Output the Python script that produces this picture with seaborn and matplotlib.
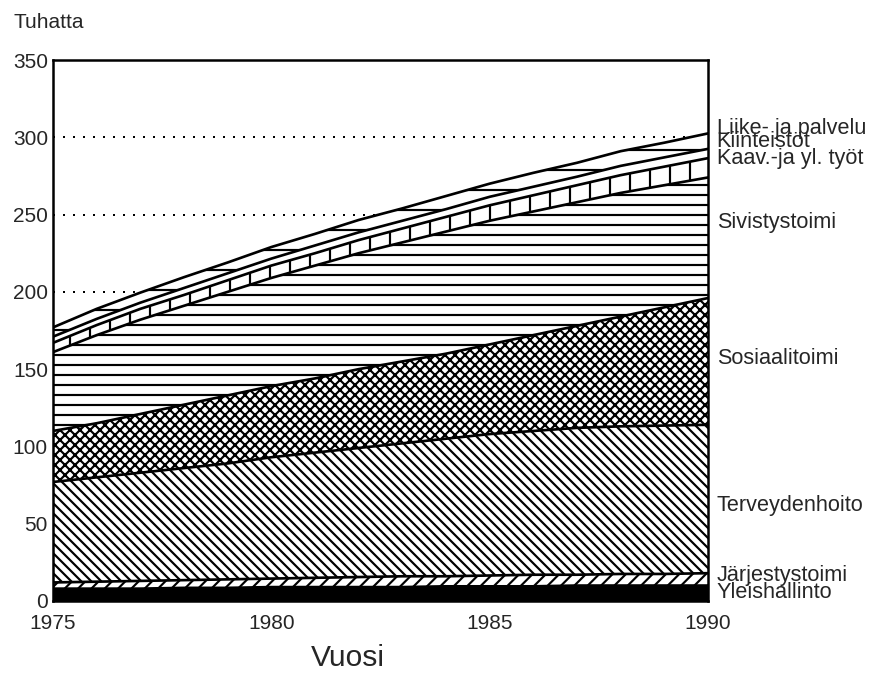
import numpy as np
import pandas as pd
import matplotlib
matplotlib.use("Agg")
import matplotlib.pyplot as plt
import seaborn as sns

sns.set_style("white")
plt.rcParams['font.family'] = ['Liberation Sans', 'DejaVu Sans']
plt.rcParams['hatch.linewidth'] = 1.3
plt.rcParams['hatch.color'] = 'black'

# ===== DATA (tuhatta, layer thickness per year) =====
years = list(range(1975, 1991))
yleishallinto = [8, 8, 8, 8.5, 8.5, 9, 9, 9, 9, 9.5, 9.5, 9.5, 10, 10, 10, 10]
jarjestystoimi = [4, 4.5, 5, 5, 5.5, 5.5, 6, 6.5, 7, 6.5, 7, 7.5, 7, 7.5, 7.5, 8]
terveydenhoito = [65, 67.5, 70, 72.5, 75, 78.5, 81, 83.5, 86, 89, 91.5, 93, 95, 95.5, 96, 96]
sosiaalitoimi = [33, 35, 38, 41, 44, 46, 48, 51, 53, 55, 58, 62, 66, 71, 76.5, 82]
sivistystoimi = [51, 57, 61, 64, 67, 70, 73, 75, 77, 79, 80, 80, 80, 80, 79, 78]
kaav_tyot = [6, 6.5, 7, 7, 7.5, 8, 8, 8.5, 9, 9.5, 10, 10.5, 11, 11.5, 12, 12.5]
kiinteistot = [4, 4, 4, 4.5, 4.5, 4.5, 5, 5, 5, 5, 5.5, 5.5, 5.5, 6, 6, 6]
liike_palvelu = [6, 6.5, 6.5, 7, 7, 7.5, 7.5, 8, 8, 8.5, 8.5, 9, 9, 9.5, 9.5, 10]

layers = [
    ("Yleishallinto", yleishallinto),
    ("Järjestystoimi", jarjestystoimi),
    ("Terveydenhoito", terveydenhoito),
    ("Sosiaalitoimi", sosiaalitoimi),
    ("Sivistystoimi", sivistystoimi),
    ("Kaav.-ja yl. työt", kaav_tyot),
    ("Kiinteistöt", kiinteistot),
    ("Liike- ja palvelu", liike_palvelu),
]
hatches = [None, '///', '\\\\\\\\', 'xxxx', '--', '|', None, '-']
label_y = [5.2, 16.2, 61.6, 157, 245, 286.5, 297.5, 306]

# ===== PLOT =====
fig = plt.figure(figsize=(884 / 120, 673 / 120), dpi=120)
ax = fig.add_axes([53 / 884, 1 - 601 / 673, 655 / 884, 541 / 673])

for yv in [50, 100, 150, 200, 250, 300]:
    ax.axhline(yv, color='black', linestyle=(0, (1, 4)), linewidth=1.2, zorder=0)

base = np.zeros(len(years))
for (name, vals), hatch, ly in zip(layers, hatches, label_y):
    top = base + np.array(vals)
    if name == "Yleishallinto":
        ax.fill_between(years, base, top, facecolor='black', edgecolor='black', zorder=2)
    else:
        ax.fill_between(years, base, top, facecolor='white', edgecolor='black',
                        hatch=hatch, linewidth=0, zorder=2)
    df = pd.DataFrame({"Vuosi": years, "Tuhatta": top})
    sns.lineplot(data=df, x="Vuosi", y="Tuhatta", color='black', linewidth=1.6,
                 ax=ax, zorder=3)
    ax.text(1990.2, ly, name, fontsize=13, va='center', ha='left', clip_on=False)
    base = top

ax.set_xlim(1975, 1990)
ax.set_ylim(0, 350)
ax.set_xticks([1975, 1980, 1985, 1990])
ax.set_yticks(range(0, 351, 50))
ax.tick_params(length=0, labelsize=12.5)
ax.tick_params(axis='y', pad=3)
ax.tick_params(axis='x', pad=8)
ax.set_xlabel("")
ax.set_ylabel("")
for sp in ax.spines.values():
    sp.set_color('black')
    sp.set_linewidth(1.5)
    sp.set_zorder(5)

fig.text(13 / 884, 1 - 22 / 673, "Tuhatta", fontsize=12.5, va='center', ha='left')
fig.text(348 / 884, 1 - 658 / 673, "Vuosi", fontsize=18, va='center', ha='center')

fig.savefig("out.png", dpi=120)
